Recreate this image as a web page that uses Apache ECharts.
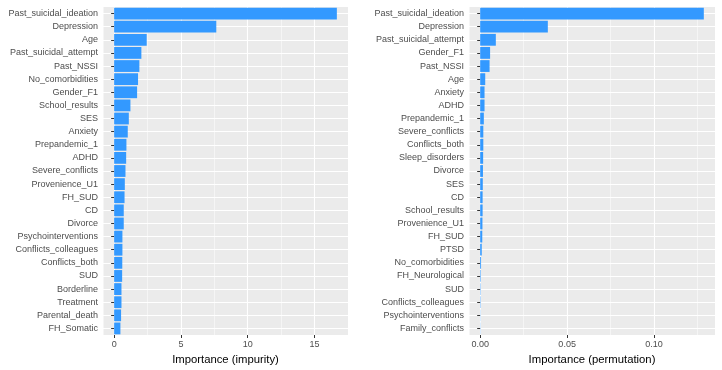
<!DOCTYPE html>
<html>
<head>
<meta charset="utf-8">
<script src="https://cdn.jsdelivr.net/npm/echarts@6/dist/echarts.min.js"></script>
<style>html,body{margin:0;padding:0;background:#fff}#c{width:722px;height:370px}</style>
</head>
<body>
<div id="c"></div>
<script>
// Left panel: impurity importance
const impurityCategories = ["Past_suicidal_ideation","Depression","Age","Past_suicidal_attempt","Past_NSSI","No_comorbidities","Gender_F1","School_results","SES","Anxiety","Prepandemic_1","ADHD","Severe_conflicts","Provenience_U1","FH_SUD","CD","Divorce","Psychointerventions","Conflicts_colleagues","Conflicts_both","SUD","Borderline","Treatment","Parental_death","FH_Somatic"];
const impurityValues = [16.68,7.65,2.44,2.04,1.89,1.79,1.72,1.22,1.10,1.02,0.92,0.90,0.85,0.80,0.78,0.72,0.72,0.62,0.62,0.61,0.60,0.55,0.55,0.52,0.47];
const impurityTicks = [0,5,10,15];

// Right panel: permutation importance
const permCategories = ["Past_suicidal_ideation","Depression","Past_suicidal_attempt","Gender_F1","Past_NSSI","Age","Anxiety","ADHD","Prepandemic_1","Severe_conflicts","Conflicts_both","Sleep_disorders","Divorce","SES","CD","School_results","Provenience_U1","FH_SUD","PTSD","No_comorbidities","FH_Neurological","SUD","Conflicts_colleagues","Psychointerventions","Family_conflicts"];
const permValues = [0.1286,0.0389,0.0090,0.0057,0.0054,0.0029,0.0025,0.0025,0.0021,0.0018,0.0018,0.0017,0.0016,0.0015,0.0014,0.0014,0.0013,0.0012,0.0009,0.0005,0.0003,0.0002,0.0002,0.0001,0.0001];
const permTicks = [0,0.05,0.10];

const FONT = "Liberation Sans";
const BAR = "#3399FF";
const PANEL = "#EBEBEB";

function ext(vals){ const m = Math.max(...vals); return [-0.05*m, 1.05*m]; }
const lx = ext(impurityValues), rx = ext(permValues);
const lStep = impurityTicks[1]-impurityTicks[0], rStep = permTicks[1]-permTicks[0];

function mainX(gi, e, ticks, name, fmt){
  return {
    type:'value', gridIndex:gi, min:e[0], max:e[1], splitNumber: ticks.length,
    name:name, nameLocation:'middle', nameGap:16,
    nameTextStyle:{fontFamily:FONT, fontSize:11.3, color:'#000'},
    axisLine:{show:false},
    axisTick:{show:true, length:3, lineStyle:{color:'#333', width:1}, customValues:ticks},
    axisLabel:{fontFamily:FONT, fontSize:9, color:'#4D4D4D', margin:5, customValues:ticks, formatter:fmt, showMinLabel:true, showMaxLabel:true},
    splitLine:{show:true, lineStyle:{color:'#fff', width:1.1}}
  };
}
function minorX(gi, e, step, n){
  return {
    type:'value', gridIndex:gi, min:e[0]-step/2, max:e[1]-step/2, splitNumber:n,
    position:'bottom',
    axisLine:{show:false}, axisTick:{show:false}, axisLabel:{show:false},
    splitLine:{show:true, lineStyle:{color:'#fff', width:0.5}}
  };
}
function catY(gi, cats){
  return {
    type:'category', gridIndex:gi, data:cats, inverse:true,
    axisLine:{show:false},
    axisTick:{show:true, alignWithLabel:true, length:3, lineStyle:{color:'#333', width:1}},
    axisLabel:{fontFamily:FONT, fontSize:9, color:'#4D4D4D', margin:5},
    splitLine:{show:true, alignWithLabel:true, lineStyle:{color:'#fff', width:1.1}}
  };
}

const chart = echarts.init(document.getElementById('c'), null, {renderer:'canvas'});
chart.setOption({
  animation:false,
  backgroundColor:'#fff',
  grid:[
    {left:103, top:7, width:245, height:328, show:true, backgroundColor:PANEL, borderWidth:0, containLabel:false},
    {left:469, top:7, width:246, height:328, show:true, backgroundColor:PANEL, borderWidth:0, containLabel:false}
  ],
  xAxis:[
    mainX(0, lx, impurityTicks, 'Importance (impurity)', v => String(v)),
    minorX(0, lx, lStep, impurityTicks.length),
    mainX(1, rx, permTicks, 'Importance (permutation)', v => v.toFixed(2)),
    minorX(1, rx, rStep, permTicks.length)
  ],
  yAxis:[ catY(0, impurityCategories), catY(1, permCategories) ],
  series:[
    {type:'bar', xAxisIndex:0, yAxisIndex:0, data:impurityValues, barWidth:'90%', itemStyle:{color:BAR}, silent:true},
    {type:'bar', xAxisIndex:2, yAxisIndex:1, data:permValues, barWidth:'90%', itemStyle:{color:BAR}, silent:true}
  ]
});
</script>
</body>
</html>
